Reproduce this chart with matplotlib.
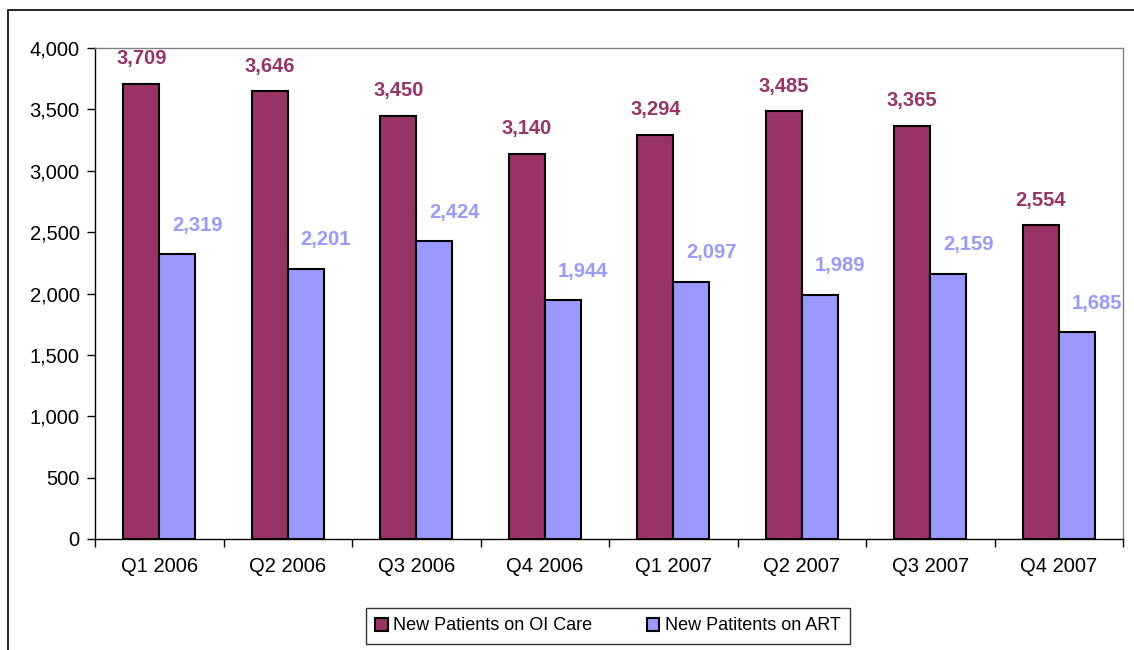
import matplotlib
matplotlib.use("Agg")
import matplotlib.pyplot as plt
from matplotlib.patches import Rectangle
from matplotlib.ticker import FuncFormatter, FixedLocator
import numpy as np

plt.rcParams['font.family'] = ['Liberation Sans', 'DejaVu Sans']

quarters = ["Q1 2006", "Q2 2006", "Q3 2006", "Q4 2006",
            "Q1 2007", "Q2 2007", "Q3 2007", "Q4 2007"]
oi_care = [3709, 3646, 3450, 3140, 3294, 3485, 3365, 2554]
art = [2319, 2201, 2424, 1944, 2097, 1989, 2159, 1685]
series_names = ["New Patients on OI Care", "New Patitents on ART"]

maroon = "#993366"
lilac = "#9999FF"

W, H = 1134, 650
fig = plt.figure(figsize=(W / 100, H / 100), dpi=100)

# outer chart frame
fig.add_artist(Rectangle((8 / W, -0.1), 1.2, (H - 10) / H + 0.1,
                         transform=fig.transFigure, fill=False,
                         edgecolor="black", linewidth=1.2))

left, right, top, bottom = 95, 1123, 48, 539
ax = fig.add_axes([left / W, (H - bottom) / H, (right - left) / W, (bottom - top) / H])

x = np.arange(len(quarters))
bw = 0.28
b1 = ax.bar(x - 0.14, oi_care, bw, color=maroon, edgecolor="black", linewidth=1.5,
            label=series_names[0])
b2 = ax.bar(x + 0.14, art, bw, color=lilac, edgecolor="black", linewidth=1.5,
            label=series_names[1])

for xi, v in zip(x, oi_care):
    ax.annotate(f"{v:,}", (xi - 0.14, v), xytext=(0, 25), textcoords="offset pixels",
                ha="center", va="center", fontsize=14.5, fontweight="bold", color=maroon)
for xi, v in zip(x, art):
    ax.annotate(f"{v:,}", (xi + 0.14, v), xytext=(20, 29), textcoords="offset pixels",
                ha="center", va="center", fontsize=14.5, fontweight="bold", color=lilac)

ax.set_xlim(-0.5, len(quarters) - 0.5)
ax.set_ylim(0, 4000)
ax.set_yticks(np.arange(0, 4001, 500))
ax.yaxis.set_major_formatter(FuncFormatter(lambda v, p: f"{int(v):,}"))
ax.set_xticks(x)
ax.set_xticklabels(quarters)
ax.xaxis.set_minor_locator(FixedLocator(np.arange(-0.5, len(quarters), 1.0)))
ax.tick_params(axis="x", which="major", length=0, pad=13, labelsize=14.5)
ax.tick_params(axis="x", which="minor", length=6, width=1, direction="out")
ax.tick_params(axis="y", length=6, width=1, direction="out", pad=5, labelsize=14.5)

for s in ["top", "right"]:
    ax.spines[s].set_color("#808080")
    ax.spines[s].set_linewidth(1)
for s in ["left", "bottom"]:
    ax.spines[s].set_color("black")
    ax.spines[s].set_linewidth(1)

leg = fig.legend(handles=[b1, b2], loc="center", ncol=2,
                 bbox_to_anchor=(608 / W, 1 - 626 / H), fontsize=13,
                 frameon=True, fancybox=False, edgecolor="black",
                 handlelength=0.7, handleheight=0.7, handletextpad=0.3,
                 columnspacing=3.0, borderpad=0.5)
leg.get_frame().set_linewidth(1)

fig.savefig("out.png", dpi=100)
